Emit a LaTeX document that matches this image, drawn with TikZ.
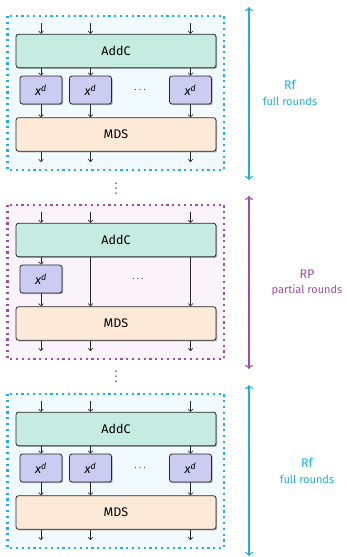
\documentclass[tikz,border=0pt]{standalone}
\usepackage{fontspec}
\setmainfont{Fira Sans}
\usetikzlibrary{shadows,arrows.meta}

\definecolor{fullcol}{HTML}{1CAFE8}
\definecolor{partcol}{HTML}{A04FA0}
\definecolor{fullbg}{HTML}{F1FAFE}
\definecolor{partbg}{HTML}{FAF3FA}
\definecolor{addcfill}{HTML}{C6EBE1}
\definecolor{sboxfill}{HTML}{CCCCF2}
\definecolor{mdsfill}{HTML}{FDE9D8}

\tikzset{
  layer/.style={draw=black!85, line width=0.8pt, rounded corners=2.5pt,
    minimum width=200pt, minimum height=33.5pt, inner sep=0pt, font=\fontsize{12.5}{14}\selectfont,
    drop shadow={opacity=0.45, shadow xshift=1.2pt, shadow yshift=-1.2pt, fill=black!70}},
  addcbox/.style={layer, fill=addcfill},
  mdsbox/.style={layer, fill=mdsfill},
  sbox/.style={layer, fill=sboxfill, minimum width=42pt, minimum height=28pt},
  wire/.style={draw=black!85, line width=0.6pt, -{To[length=3pt,width=5pt]}},
  roundframe/.style={line width=2.2pt, dash pattern=on 2.2pt off 3.6pt},
  fullframe/.style={roundframe, draw=fullcol, fill=fullbg},
  partframe/.style={roundframe, draw=partcol, fill=partbg},
  span/.style={line width=1.2pt, {To[length=4pt,width=8pt]}-{To[length=4pt,width=8pt]}},
  bigtxt/.style={font=\fontsize{12.5}{14}\selectfont},
  smalltxt/.style={font=\fontsize{11}{13}\selectfont},
  vdot/.style={fill=black},
}

\newcommand{\xpow}{{\itshape x\textsuperscript{d}}}

\begin{document}
\begin{tikzpicture}[x=1pt,y=-1pt]
\useasboundingbox (0,0) rectangle (346,557);

% ---------- first full rounds ----------
\begin{scope}
  \filldraw[fullframe] (7.5,16) rectangle (224,170);
  \node[addcbox] (a1) at (116,51) {AddC};
  \node[mdsbox]  (m1) at (116,134.5) {MDS};
  \node[sbox] (s11) at (41,90) {\xpow};
  \node[sbox] (s12) at (90.5,90) {\xpow};
  \node[sbox] (s13) at (190.5,90) {\xpow};
  \node (d1) at (140,90) {$\cdots$};
  \foreach \c/\x in {1/41,2/90.5,3/190.5} {
    \coordinate (i1\c) at (\x,23);
    \coordinate (o1\c) at (\x,162);
    \draw[wire] (i1\c) -- (i1\c |- a1.north);
    \draw[wire] (s1\c |- a1.south) -- (s1\c.north);
    \draw[wire] (s1\c.south) -- (s1\c |- m1.north);
    \draw[wire] (s1\c |- m1.south) -- (o1\c);
  }
  \coordinate (t1) at (249,7);
  \coordinate (b1) at (249,180);
  \draw[span, fullcol] (t1) -- (b1);
  \node[bigtxt, text=fullcol] (r1) at (290,85) {Rf};
  \node[smalltxt, text=fullcol] (l1) at (290,101) {full rounds};
\end{scope}

% vertical ellipsis between the blocks
\coordinate (v1) at (116,188);
\foreach \dy in {-5,0,5} \fill[vdot] ([yshift=-\dy pt]v1) circle (0.75pt);

% ---------- partial rounds ----------
\begin{scope}[shift={(0,189)}]
  \filldraw[partframe] (7.5,16) rectangle (224,170);
  \node[addcbox] (a2) at (116,51) {AddC};
  \node[mdsbox]  (m2) at (116,134.5) {MDS};
  \node[sbox] (s21) at (41,90) {\xpow};
  \node (d2) at (138,90) {$\cdots$};
  \foreach \c/\x in {1/41,2/90.5,3/190.5} {
    \coordinate (i2\c) at (\x,23);
    \coordinate (o2\c) at (\x,162);
    \draw[wire] (i2\c) -- (i2\c |- a2.north);
    \draw[wire] (i2\c |- m2.south) -- (o2\c);
  }
  \draw[wire] (s21 |- a2.south) -- (s21.north);
  \draw[wire] (s21.south) -- (s21 |- m2.north);
  \draw[wire] (i22 |- a2.south) -- (i22 |- m2.north);
  \draw[wire] (i23 |- a2.south) -- (i23 |- m2.north);
  \coordinate (t2) at (249,7);
  \coordinate (b2) at (249,180);
  \draw[span, partcol] (t2) -- (b2);
  \node[bigtxt, text=partcol] (r2) at (307,85) {RP};
  \node[smalltxt, text=partcol] (l2) at (307,101) {partial rounds};
\end{scope}

\coordinate (v2) at (116,376);
\foreach \dy in {-5,0,5} \fill[vdot] ([yshift=-\dy pt]v2) circle (0.75pt);

% ---------- last full rounds ----------
\begin{scope}[shift={(0,378)}]
  \filldraw[fullframe] (7.5,16) rectangle (224,170);
  \node[addcbox] (a3) at (116,51) {AddC};
  \node[mdsbox]  (m3) at (116,134.5) {MDS};
  \node[sbox] (s31) at (41,90) {\xpow};
  \node[sbox] (s32) at (90.5,90) {\xpow};
  \node[sbox] (s33) at (190.5,90) {\xpow};
  \node (d3) at (140,90) {$\cdots$};
  \foreach \c/\x in {1/41,2/90.5,3/190.5} {
    \coordinate (i3\c) at (\x,23);
    \coordinate (o3\c) at (\x,162);
    \draw[wire] (i3\c) -- (i3\c |- a3.north);
    \draw[wire] (s3\c |- a3.south) -- (s3\c.north);
    \draw[wire] (s3\c.south) -- (s3\c |- m3.north);
    \draw[wire] (s3\c |- m3.south) -- (o3\c);
  }
  \coordinate (t3) at (249,7);
  \coordinate (b3) at (249,178);
  \draw[span, fullcol] (t3) -- (b3);
  \node[bigtxt, text=fullcol] (r3) at (307,85) {Rf};
  \node[smalltxt, text=fullcol] (l3) at (307,101) {full rounds};
\end{scope}
\end{tikzpicture}
\end{document}
